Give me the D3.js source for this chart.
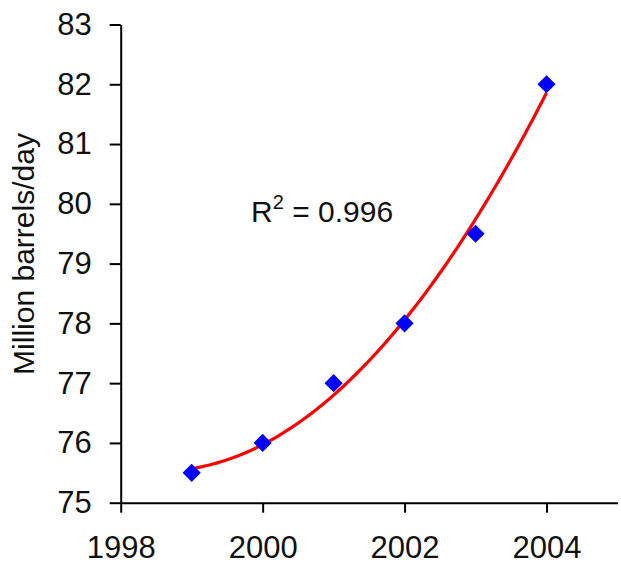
<!DOCTYPE html>
<html>
<head>
<meta charset="utf-8">
<script src="https://cdn.jsdelivr.net/npm/d3@7"></script>
<style>
body { margin: 0; background: #fff; }
text { font-family: "Liberation Sans", Arial, sans-serif; fill: #111; }
</style>
</head>
<body>
<div id="chart"></div>
<script>
// data
var years = [1999, 2000, 2001, 2002, 2003, 2004];
var demand = [75.5, 76, 77, 78, 79.5, 82];
var xTicks = [1998, 2000, 2002, 2004];
var yTicks = [75, 76, 77, 78, 79, 80, 81, 82, 83];
var yLabel = "Million barrels/day";

var width = 621, height = 564;

var svg = d3.select("#chart").append("svg")
    .attr("width", width)
    .attr("height", height);

var x = d3.scaleLinear().domain([1998, 2005]).range([120.7, 617.5]);
var y = d3.scaleLinear().domain([75, 83]).range([502.7, 24.5]);

// quadratic least squares trend (what the spreadsheet trendline does)
function polyFit(xs, ys) {
  var n = xs.length, S = [0, 0, 0, 0, 0], T = [0, 0, 0];
  for (var i = 0; i < n; i++) {
    var t = xs[i] - xs[0];
    for (var k = 0; k < 5; k++) S[k] += Math.pow(t, k);
    for (var k = 0; k < 3; k++) T[k] += Math.pow(t, k) * ys[i];
  }
  var A = [[S[0], S[1], S[2], T[0]], [S[1], S[2], S[3], T[1]], [S[2], S[3], S[4], T[2]]];
  for (var c = 0; c < 3; c++) {
    for (var r = c + 1; r < 3; r++) {
      var f = A[r][c] / A[c][c];
      for (var k = c; k < 4; k++) A[r][k] -= f * A[c][k];
    }
  }
  var co = [0, 0, 0];
  for (var r = 2; r >= 0; r--) {
    var s = A[r][3];
    for (var k = r + 1; k < 3; k++) s -= A[r][k] * co[k];
    co[r] = s / A[r][r];
  }
  return function (v) { var t = v - xs[0]; return co[0] + co[1] * t + co[2] * t * t; };
}
var fit = polyFit(years, demand);
var meanY = d3.mean(demand);
var ssRes = d3.sum(years, function (d, i) { return Math.pow(demand[i] - fit(d), 2); });
var ssTot = d3.sum(demand, function (d) { return Math.pow(d - meanY, 2); });
var r2 = 1 - ssRes / ssTot;

// axes
var xAxis = svg.append("g")
    .attr("transform", "translate(0," + y(75) + ")")
    .call(d3.axisBottom(x).tickValues(xTicks).tickFormat(d3.format("d"))
      .tickSizeInner(10).tickSizeOuter(0).tickPadding(23));
var yAxis = svg.append("g")
    .attr("transform", "translate(" + x(1998) + ",0)")
    .call(d3.axisLeft(y).tickValues(yTicks).tickFormat(d3.format("d"))
      .tickSizeInner(11).tickSizeOuter(0).tickPadding(18));

svg.selectAll(".domain, .tick line").attr("stroke", "#000").attr("stroke-width", 2);
svg.selectAll(".tick text").style("font-size", "31px").attr("fill", "#111");
xAxis.selectAll(".tick text").attr("dy", "0.71em");

svg.append("text")
    .attr("transform", "translate(34,254) rotate(-90)")
    .attr("text-anchor", "middle")
    .style("font-size", "30px")
    .text(yLabel);

// trend line
var curve = d3.range(0, 101).map(function (i) {
  var v = years[0] + (years[years.length - 1] - years[0]) * i / 100;
  return [v, fit(v)];
});
svg.append("path")
    .datum(curve)
    .attr("fill", "none")
    .attr("stroke", "#ff0000")
    .attr("stroke-width", 3.2)
    .attr("d", d3.line().x(function (d) { return x(d[0]); }).y(function (d) { return y(d[1]); }));

// markers
svg.append("g").selectAll("path")
    .data(years)
    .enter().append("path")
    .attr("d", d3.symbol().type(d3.symbolSquare).size(165))
    .attr("transform", function (d, i) { return "translate(" + x(d) + "," + y(demand[i]) + ") rotate(45)"; })
    .attr("fill", "#0000ff");

// R squared label
var rt = svg.append("text")
    .attr("x", 251)
    .attr("y", 222)
    .style("font-size", "30px");
rt.append("tspan").text("R");
rt.append("tspan").attr("dy", -13).style("font-size", "20px").text("2");
rt.append("tspan").attr("dy", 13).text(" = " + r2.toFixed(3));
</script>
</body>
</html>
